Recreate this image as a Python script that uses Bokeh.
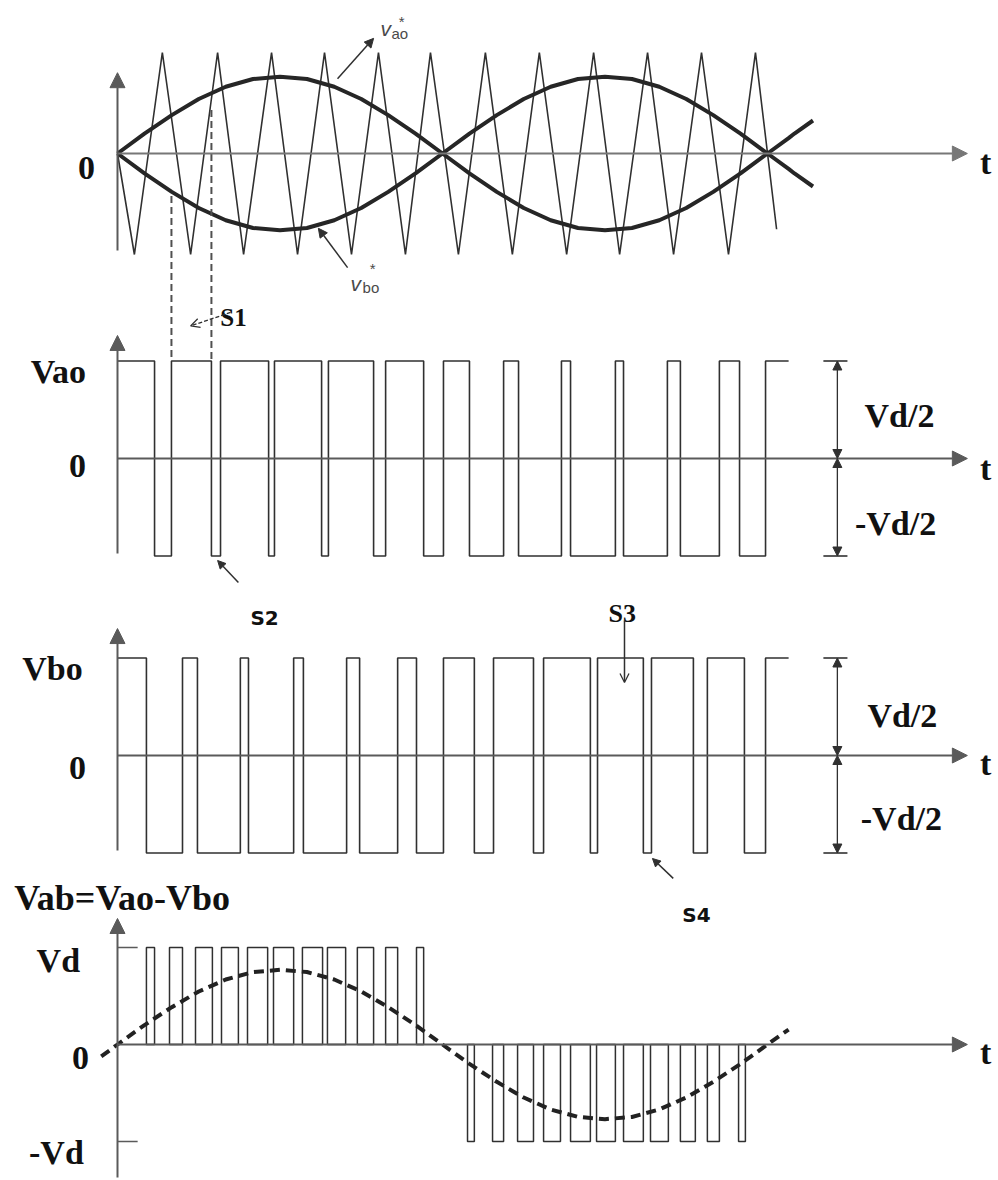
from bokeh.plotting import figure
from bokeh.models import Range1d, Arrow, NormalHead, OpenHead, Label
from bokeh.embed import file_html
from bokeh.resources import INLINE

# ---------------------------------------------------------------- data (time in ms)
# triangular carrier: vertex times and levels (unit = carrier peak)
carrier_t = [0.0, 0.52, 1.38, 2.25, 3.08, 3.88, 4.74, 5.54, 6.37, 7.20, 8.03, 8.86, 9.63,
             10.49, 11.32, 12.15, 12.98, 13.82, 14.65, 15.45, 16.31, 17.11, 17.97, 18.80,
             19.63, 20.28]
carrier_v = [0.0, -1, 1, -1, 1, -1, 1, -1, 1, -1, 1, -1, 1,
             -1, 1, -1, 1, -1, 1, -1, 1, -1, 1, -1, 1, -0.75]

# sinusoidal reference, sampled shape (unit amplitude)
ref_t = [-0.5, 0.0, 0.83, 1.67, 2.5, 3.33, 4.17, 5.0, 5.83, 6.67, 7.5, 8.33, 9.17, 10.0,
         10.83, 11.67, 12.5, 13.33, 14.17, 15.0, 15.83, 16.67, 17.5, 18.33, 19.17, 20.0,
         20.65, 20.83, 21.4]
ref_shape = [-0.16, 0.0, 0.26, 0.5, 0.71, 0.87, 0.97, 1.0, 0.97, 0.87, 0.71, 0.5, 0.26, 0.0,
             -0.26, -0.5, -0.71, -0.87, -0.97, -1.0, -0.97, -0.87, -0.71, -0.5, -0.26, 0.0,
             0.2, 0.26, 0.43]
ma_ref = 0.76   # reference amplitude relative to carrier peak
ma_ab = 0.77    # fundamental of Vab relative to Vd

# switching instants of the pole voltages (both start at +Vd/2)
vao_edges = [1.14, 1.66, 2.89, 3.17, 4.65, 4.83, 6.28, 6.49, 7.88, 8.25, 9.42, 10.03,
             10.83, 11.88, 12.34, 13.66, 13.94, 15.32, 15.57, 16.92, 17.32, 18.52, 19.14, 19.94]
vbo_edges = [0.89, 2.0, 2.46, 3.78, 4.03, 5.42, 5.72, 7.05, 7.45, 8.62, 9.2, 10.03,
             10.98, 11.57, 12.8, 13.11, 14.55, 14.77, 16.18, 16.43, 17.72, 18.15, 19.29, 19.94]
pwm_end = 20.65

# line-to-line pulses (+Vd and -Vd)
vab_pos_left = [0.89, 1.60, 2.40, 3.20, 4.00, 4.80, 5.69, 6.46, 7.38, 8.25, 9.20]
vab_pos_right = [1.14, 2.00, 2.92, 3.72, 4.62, 5.42, 6.31, 7.02, 7.88, 8.62, 9.42]
vab_neg_left = [10.77, 11.54, 12.31, 13.11, 13.94, 14.74, 15.57, 16.40, 17.32, 18.15, 19.11]
vab_neg_right = [10.98, 11.88, 12.80, 13.63, 14.55, 15.32, 16.18, 16.95, 17.78, 18.52, 19.32]

# instants marked by the dashed guides (S1) and the reference level they start from
guide_t = [1.66, 2.89]
guide_top = [-0.42, 0.43]

# ---------------------------------------------------------------- layout
W, H = 998, 1180
# each strip: (pixel row of its zero line, pixels per unit)
PANELS = {"ref": (153, 101), "vao": (458, 195), "vbo": (755, 195), "vab": (1044, 97)}


def strip_range(name):
    z, u = PANELS[name]
    return Range1d(start=-(H - z) / u, end=z / u)


def across(v, src, dst):
    z1, u1 = PANELS[src]
    z2, u2 = PANELS[dst]
    return (z2 - (z1 - u1 * v)) / u2


INK = "#303030"
AX = "#5a5a5a"
SERIF = "Liberation Serif"
SANS = "DejaVu Sans"

p = figure(width=W, height=H, x_range=Range1d(-3.6, 27.108), y_range=strip_range("ref"),
           output_backend="svg", toolbar_location=None, min_border=0,
           x_axis_location=None, y_axis_location=None)
p.extra_y_ranges = {k: strip_range(k) for k in ("vao", "vbo", "vab")}
p.grid.visible = False
p.outline_line_color = None
p.background_fill_color = "white"
p.border_fill_color = "white"


def rng(name):
    return {} if name == "ref" else {"y_range_name": name}


# ---------------------------------------------------------------- axes
axis_ext = {"ref": (-0.96, 0.80), "vao": (-0.487, 0.631), "vbo": (-0.487, 0.651),
            "vab": (-1.371, 1.299)}
for name, (lo, hi) in axis_ext.items():
    col = "#777777" if name == "ref" else AX
    p.add_layout(Arrow(end=NormalHead(size=15, fill_color=col, line_color=col),
                       x_start=0, y_start=0, x_end=26.15, y_end=0,
                       line_color=col, line_width=2, **rng(name)))
    p.add_layout(Arrow(end=NormalHead(size=15, fill_color=AX, line_color=AX),
                       x_start=0, y_start=lo, x_end=0, y_end=hi,
                       line_color=AX, line_width=2, **rng(name)))

# ---------------------------------------------------------------- carrier and references
p.line(carrier_t, carrier_v, line_color=INK, line_width=1.6)
r_t = ref_t[1:]
p.line(r_t, [ma_ref * s for s in ref_shape[1:]], line_color="#262626", line_width=4)
p.line(r_t, [-ma_ref * s for s in ref_shape[1:]], line_color="#262626", line_width=4)

# dashed guides from the reference crossings down to Vao
for t, top in zip(guide_t, guide_top):
    p.segment(x0=[t], y0=[across(top, "ref", "vao")], x1=[t], y1=[0.5],
              line_color="#505050", line_width=2, line_dash="7 4", y_range_name="vao")


# ---------------------------------------------------------------- pole voltages
def step_xy(edges, hi=0.5, lo=-0.5):
    xs, ys = [0.0], [hi]
    level = hi
    for e in edges:
        xs += [e, e]
        ys += [level, lo if level == hi else hi]
        level = ys[-1]
    xs.append(pwm_end)
    ys.append(level)
    return xs, ys


for name, edges in (("vao", vao_edges), ("vbo", vbo_edges)):
    xs, ys = step_xy(edges)
    p.line(xs, ys, line_color=INK, line_width=1.6, y_range_name=name)
    # dimension arrows and ticks on the right
    for a, b in ((0.5, 0.0), (0.0, -0.5)):
        p.add_layout(Arrow(start=NormalHead(size=9, fill_color=INK, line_color=INK),
                           end=NormalHead(size=9, fill_color=INK, line_color=INK),
                           x_start=22.15, y_start=a, x_end=22.15, y_end=b,
                           line_color=INK, line_width=1.3, y_range_name=name))
    p.segment(x0=[21.72, 21.72], y0=[0.5, -0.5], x1=[22.46, 22.46], y1=[0.5, -0.5],
              line_color=INK, line_width=1.6, y_range_name=name)

# ---------------------------------------------------------------- line-to-line voltage
p.quad(left=vab_pos_left, right=vab_pos_right, bottom=0, top=1,
       fill_alpha=0, line_color=INK, line_width=1.5, y_range_name="vab")
p.quad(left=vab_neg_left, right=vab_neg_right, bottom=-1, top=0,
       fill_alpha=0, line_color=INK, line_width=1.5, y_range_name="vab")
p.segment(x0=[0, 0], y0=[1, -1], x1=[0.62, 0.62], y1=[1, -1],
          line_color=AX, line_width=1.6, y_range_name="vab")
p.line(ref_t[:27], [ma_ab * s for s in ref_shape[:27]], line_color="#222222",
       line_width=4, line_dash="10 6", y_range_name="vab")


# ---------------------------------------------------------------- text
def label(text, x, y, name, size, align="center", font=SERIF, style="bold",
          color="#111111", baseline="alphabetic"):
    p.add_layout(Label(x=x, y=y, text=text, text_font=font, text_font_style=style,
                       text_font_size=f"{size}px", text_align=align,
                       text_baseline=baseline, text_color=color, **rng(name)))


for name, y0, yt in (("ref", -0.139, -0.089), ("vao", -0.036, -0.051),
                     ("vbo", -0.062, -0.041), ("vab", -0.144, -0.082)):
    x0 = {"ref": -0.95, "vao": -1.23, "vbo": -1.23, "vab": -1.14}[name]
    label("0", x0, y0, name, 34)
    label("t", 26.71, yt, name, 34)

label("Vao", -1.82, 0.446, "vao", 34)
label("Vbo", -2.0, 0.446, "vbo", 34)
label("Vd/2", 24.06, 0.22, "vao", 34)
label("-Vd/2", 23.94, -0.333, "vao", 34)
label("Vd/2", 24.15, 0.205, "vbo", 34)
label("-Vd/2", 24.12, -0.323, "vbo", 34)
label("Vab=Vao-Vbo", -3.18, 1.515, "vab", 36, align="left")
label("Vd", -1.82, 0.866, "vab", 34)
label("-Vd", -1.88, -1.113, "vab", 34)

# reference names
GREY = "#4a4a4a"
label("v", 8.09, 1.238, "ref", 21, align="left", font="Liberation Sans", style="italic", color=GREY)
label("ao", 8.43, 1.188, "ref", 15, align="left", font="Liberation Sans", style="normal", color=GREY)
label("*", 8.74, 1.307, "ref", 15, font="Liberation Sans", style="normal", color=GREY)
label("v", 7.17, -1.287, "ref", 21, align="left", font="Liberation Sans", style="italic", color=GREY)
label("bo", 7.54, -1.327, "ref", 15, align="left", font="Liberation Sans", style="normal", color=GREY)
label("*", 7.85, -1.139, "ref", 15, font="Liberation Sans", style="normal", color=GREY)
p.add_layout(Arrow(end=NormalHead(size=9, fill_color=INK, line_color=INK),
                   x_start=6.77, y_start=0.74, x_end=7.88, y_end=1.14,
                   line_color=INK, line_width=1.5))
p.add_layout(Arrow(end=NormalHead(size=9, fill_color=INK, line_color=INK),
                   x_start=7.08, y_start=-1.13, x_end=6.18, y_end=-0.74,
                   line_color=INK, line_width=1.5))

# switch annotations
label("S1", 3.57, 0.723, "vao", 25)
p.add_layout(Arrow(end=OpenHead(size=9, line_color=INK, line_width=1.3),
                   x_start=3.48, y_start=0.749, x_end=2.25, y_end=0.68,
                   line_color=INK, line_width=1.3, line_dash="4 2", y_range_name="vao"))
label("S2", 4.09, -0.82, "vao", 20, align="left", font=SANS)
p.add_layout(Arrow(end=NormalHead(size=8, fill_color=INK, line_color=INK),
                   x_start=3.72, y_start=-0.636, x_end=3.08, y_end=-0.523,
                   line_color=INK, line_width=1.5, y_range_name="vao"))
label("S3", 15.11, 0.728, "vbo", 26, align="left")
p.add_layout(Arrow(end=OpenHead(size=9, line_color=INK, line_width=1.3),
                   x_start=15.6, y_start=0.692, x_end=15.6, y_end=0.374,
                   line_color=INK, line_width=1.5, y_range_name="vbo"))
label("S4", 17.38, -0.82, "vbo", 20, align="left", font=SANS)
p.add_layout(Arrow(end=NormalHead(size=8, fill_color=INK, line_color=INK),
                   x_start=17.1, y_start=-0.63, x_end=16.46, y_end=-0.528,
                   line_color=INK, line_width=1.5, y_range_name="vbo"))

open("out.html", "w").write(file_html(p, INLINE))
